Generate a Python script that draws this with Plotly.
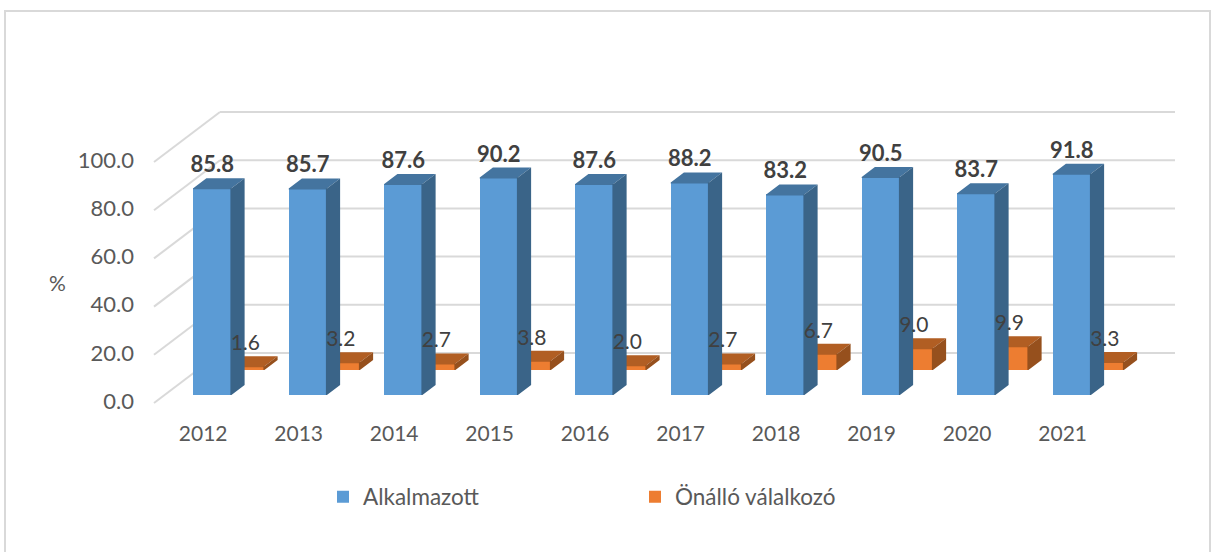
import plotly.graph_objects as go

years = ["2012", "2013", "2014", "2015", "2016", "2017", "2018", "2019", "2020", "2021"]
alkalmazott = [85.8, 85.7, 87.6, 90.2, 87.6, 88.2, 83.2, 90.5, 83.7, 91.8]
onallo = [1.6, 3.2, 2.7, 3.8, 2.0, 2.7, 6.7, 9.0, 9.9, 3.3]
y_ticks = [0, 20, 40, 60, 80, 100]

W, H = 1211, 552
SLOT_PX, UNIT_PX = 95.5, 2.41
X0_PX, Y0_PX = 154.0, 403.0
DX, DY = 66 / SLOT_PX, 50 / UNIT_PX   # full depth shear, in axis units
BAR_W = 0.40
BLUE_D, ORANGE_D, BAR_DEPTH = 0.16, 0.66, 0.20
LABEL_LIFT = 21.5 / UNIT_PX
SEAM_X, SEAM_Y = 1 / SLOT_PX, 1 / UNIT_PX  # faces overlap the front by 1px so no seam shows

x_range = [-X0_PX / SLOT_PX, (W - X0_PX) / SLOT_PX]
y_range = [(Y0_PX - H) / UNIT_PX, Y0_PX / UNIT_PX]


def poly(name_xy, color, xa, ya):
    xs, ys = [], []
    for pts in name_xy:
        xs += [p[0] for p in pts] + [pts[0][0], None]
        ys += [p[1] for p in pts] + [pts[0][1], None]
    return go.Scatter(x=xs, y=ys, mode="lines", fill="toself", fillcolor=color,
                      line=dict(width=0, color=color), hoverinfo="skip",
                      showlegend=False, xaxis=xa, yaxis=ya)


def add_series(fig, values, d0, name, front, top, side, xa, ya, legend):
    xc = [i + 0.5 + d0 * DX for i in range(len(values))]
    base = d0 * DY
    fig.add_trace(go.Bar(x=xc, y=values, base=base, width=BAR_W, name=name,
                         marker=dict(color=front, line=dict(width=0)),
                         xaxis=xa, yaxis=ya, legend=legend, hoverinfo="y"))
    sx, sy = BAR_DEPTH * DX, BAR_DEPTH * DY
    tops, sides = [], []
    for c, v in zip(xc, values):
        l, r, t = c - BAR_W / 2, c + BAR_W / 2, base + v
        tops.append([(l, t - SEAM_Y), (r, t - SEAM_Y), (r, t), (r + sx, t + sy), (l + sx, t + sy), (l, t)])
        sides.append([(r - SEAM_X, base), (r, base), (r + sx, base + sy), (r + sx, t + sy),
                      (r, t), (r - SEAM_X, t)])
    fig.add_trace(poly(tops, top, xa, ya))
    fig.add_trace(poly(sides, side, xa, ya))
    return xc, base


fig = go.Figure()

# back wall and side wall gridlines, beneath every trace
grid_line = dict(color="#d9d9d9", width=2)
shapes = []
for t in y_ticks:
    shapes.append(dict(type="line", xref="x", yref="y", layer="below", line=grid_line,
                       x0=0, y0=t, x1=DX, y1=t + DY))
    shapes.append(dict(type="line", xref="x", yref="y", layer="below", line=grid_line,
                       x0=DX, y0=t + DY, x1=len(years) + DX, y1=t + DY))
shapes.append(dict(type="path", xref="paper", yref="paper",
                   path=f"M {5/W},0 L {5/W},{1-11/H} L {1210/W},{1-11/H} L {1210/W},0",
                   line=dict(color="#d9d9d9", width=2)))

ox, obase = add_series(fig, onallo, ORANGE_D, "Önálló válalkozó",
                       "#ed7d31", "#b15e23", "#96501d", "x", "y", "legend2")
bx, bbase = add_series(fig, alkalmazott, BLUE_D, "Alkalmazott",
                       "#5b9bd5", "#44749f", "#3a6488", "x2", "y2", "legend")

fig.add_trace(go.Scatter(x=bx, y=[bbase + v + LABEL_LIFT for v in alkalmazott], mode="text",
                         text=[f"{v:.1f}" for v in alkalmazott], textposition="middle center",
                         textfont=dict(family="Lato", size=22, color="#404040", weight="bold"),
                         hoverinfo="skip", showlegend=False, xaxis="x2", yaxis="y2"))
fig.add_trace(go.Scatter(x=ox, y=[obase + v + LABEL_LIFT for v in onallo], mode="text",
                         text=[f"{v:.1f}" for v in onallo], textposition="middle center",
                         textfont=dict(family="Lato", size=21, color="#404040"),
                         hoverinfo="skip", showlegend=False, xaxis="x2", yaxis="y2"))

tick_font = dict(family="Lato", size=21, color="#595959")
legend_font = dict(family="Lato", size=22.5, color="#595959")
fig.update_layout(
    width=W, height=H, margin=dict(l=0, r=0, t=0, b=0),
    paper_bgcolor="white", plot_bgcolor="white", barmode="overlay", bargap=0,
    xaxis=dict(range=x_range, domain=[0, 1], anchor="free", position=1 - 419 / H,
               tickvals=[i + 0.515 for i in range(len(years))], ticktext=years,
               showgrid=False, zeroline=False, showline=False, ticks="", tickfont=tick_font),
    yaxis=dict(range=y_range, domain=[0, 1], anchor="free", position=134 / W,
               tickvals=y_ticks, tickformat=".1f", ticklabelshift=-2,
               showgrid=False, zeroline=False, showline=False, ticks="",
               tickfont=dict(family="Lato", size=22, color="#595959")),
    xaxis2=dict(range=x_range, overlaying="x", visible=False),
    yaxis2=dict(range=y_range, overlaying="y", visible=False),
    legend=dict(x=323 / W, y=1 - 497 / H, xanchor="left", yanchor="middle",
                font=legend_font, bgcolor="rgba(0,0,0,0)"),
    legend2=dict(x=635 / W, y=1 - 497 / H, xanchor="left", yanchor="middle",
                 font=legend_font, bgcolor="rgba(0,0,0,0)"),
    annotations=[dict(text="%", xref="paper", yref="paper", x=57 / W, y=1 - 282 / H,
                      showarrow=False, font=tick_font, xanchor="center", yanchor="middle")],
    shapes=shapes,
)

fig.write_html("out.html", config=dict(displayModeBar=False),
               post_script="document.body.style.margin='0';document.body.style.overflow='hidden';")
